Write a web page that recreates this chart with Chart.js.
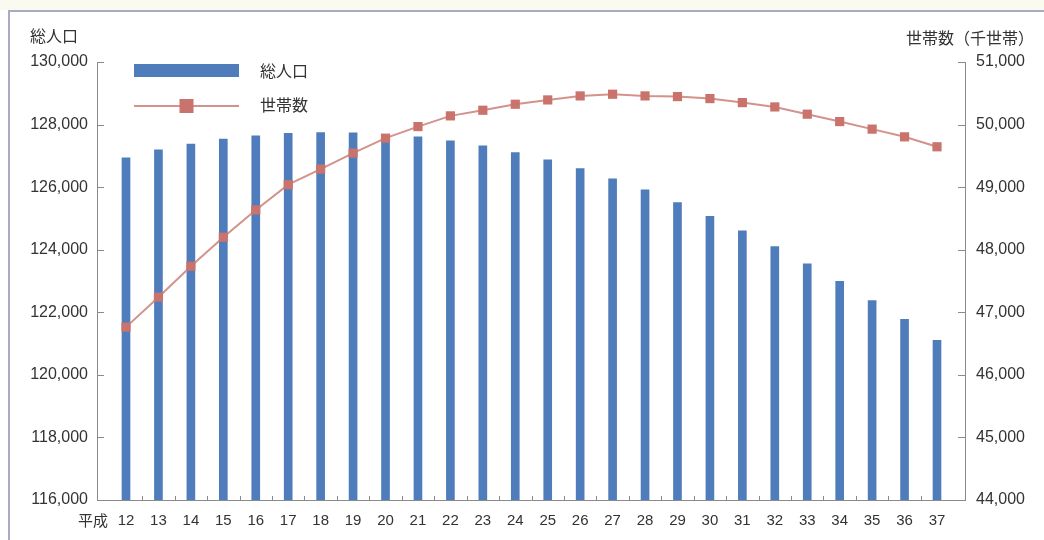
<!DOCTYPE html>
<html>
<head>
<meta charset="utf-8">
<script src="https://cdn.jsdelivr.net/npm/chart.js@4/dist/chart.umd.min.js"></script>
<style>
  html, body { margin: 0; padding: 0; background: #ffffff; }
  #wrap { width: 1044px; height: 540px; position: relative; }
</style>
</head>
<body>
<div id="wrap"><canvas id="c" width="1044" height="540"></canvas></div>
<script>
// 年次（平成）
const years = [12, 13, 14, 15, 16, 17, 18, 19, 20, 21, 22, 23, 24, 25, 26, 27, 28, 29, 30, 31, 32, 33, 34, 35, 36, 37];
const yearLabels = ['12', '13', '14', '15', '16', '17', '18', '19', '20', '21', '22', '23', '24', '25', '26', '27', '28', '29', '30', '31', '32', '33', '34', '35', '36', '37'];

// 総人口（千人）
const population = [126938, 127193, 127375, 127535, 127640, 127720, 127745, 127736, 127670, 127608, 127480, 127321, 127107,
                    126874, 126597, 126269, 125918, 125503, 125066, 124601, 124100, 123548, 122993, 122378, 121772, 121102];

// 世帯数（千世帯）
const households = [46763, 47242, 47736, 48199, 48635, 49039, 49289, 49544, 49783, 49968, 50139, 50229, 50325,
                    50394, 50458, 50485, 50458, 50447, 50415, 50351, 50282, 50166, 50048, 49927, 49804, 49645];

// 目盛
const popTicks = [116000, 118000, 120000, 122000, 124000, 126000, 128000, 130000];
const hhTicks = [44000, 45000, 46000, 47000, 48000, 49000, 50000, 51000];

const seriesNames = ['総人口', '世帯数'];
const leftTitle = '総人口';
const rightTitle = '世帯数（千世帯）';
const eraLabel = '平成';

const BAR_COLOR = '#4f7dbb';
const LINE_COLOR = '#d3928b';
const MARK_COLOR = '#c9736c';
const AXIS_COLOR = '#8a8a8a';
const TEXT_COLOR = '#333333';
const NUM_FONT = "'Liberation Sans', Arial, sans-serif";
const JP_FONT = "'Noto Sans CJK JP', 'Noto Sans', sans-serif";

const fmt = v => v.toLocaleString('en-US');

// 背景と外枠
const framePlugin = {
  id: 'frame',
  beforeDraw(chart) {
    const ctx = chart.ctx;
    ctx.save();
    ctx.fillStyle = '#ffffff';
    ctx.fillRect(0, 0, chart.width, chart.height);
    ctx.fillStyle = '#fbfaf1';
    ctx.fillRect(0, 0, chart.width, 10);
    ctx.strokeStyle = '#a9abc2';
    ctx.lineWidth = 2;
    ctx.beginPath();
    ctx.moveTo(9, chart.height);
    ctx.lineTo(9, 11);
    ctx.lineTo(chart.width, 11);
    ctx.stroke();
    ctx.restore();
  }
};

// 内向きの目盛線、軸見出し、凡例
const decorPlugin = {
  id: 'decor',
  afterDraw(chart) {
    const ctx = chart.ctx;
    const area = chart.chartArea;
    const sx = chart.scales.x, sy = chart.scales.y, sy1 = chart.scales.y1;
    ctx.save();
    ctx.strokeStyle = AXIS_COLOR;
    ctx.lineWidth = 1;
    ctx.beginPath();
    popTicks.forEach(v => {
      const y = Math.round(sy.getPixelForValue(v)) + 0.5;
      ctx.moveTo(area.left, y); ctx.lineTo(area.left + 7, y);
    });
    hhTicks.forEach(v => {
      const y = Math.round(sy1.getPixelForValue(v)) + 0.5;
      ctx.moveTo(area.right - 7, y); ctx.lineTo(area.right, y);
    });
    for (let i = 0; i < years.length - 1; i++) {
      const x = Math.round(sx.getPixelForValue((years[i] + years[i + 1]) / 2)) + 0.5;
      ctx.moveTo(x, area.bottom); ctx.lineTo(x, area.bottom - 4);
    }
    ctx.stroke();

    // 軸見出し
    ctx.fillStyle = TEXT_COLOR;
    ctx.font = '16px ' + JP_FONT;
    ctx.textBaseline = 'middle';
    ctx.textAlign = 'left';
    ctx.fillText(leftTitle, 30, 36);
    ctx.textAlign = 'right';
    ctx.fillText(rightTitle, 1034, 38);
    ctx.font = '15px ' + JP_FONT;
    ctx.textAlign = 'center';
    ctx.fillText(eraLabel, sx.getPixelForValue(years[0]) - 33, 520);

    // 凡例
    const lx0 = area.left + 37, lx1 = area.left + 142;
    ctx.fillStyle = BAR_COLOR;
    ctx.fillRect(lx0, 64, lx1 - lx0, 13);
    ctx.strokeStyle = LINE_COLOR;
    ctx.lineWidth = 2;
    ctx.beginPath();
    ctx.moveTo(lx0, 106); ctx.lineTo(lx1, 106);
    ctx.stroke();
    ctx.fillStyle = MARK_COLOR;
    const mx = (lx0 + lx1) / 2;
    ctx.fillRect(mx - 7, 99, 14, 14);
    ctx.fillStyle = TEXT_COLOR;
    ctx.font = '16px ' + JP_FONT;
    ctx.textAlign = 'left';
    ctx.fillText(seriesNames[0], 260, 71);
    ctx.fillText(seriesNames[1], 260, 105);
    ctx.restore();
  }
};

new Chart(document.getElementById('c'), {
  data: {
    datasets: [
      {
        type: 'line',
        label: seriesNames[1],
        data: years.map((x, i) => ({ x, y: households[i] })),
        yAxisID: 'y1',
        borderColor: LINE_COLOR,
        borderWidth: 2,
        tension: 0,
        pointStyle: 'rect',
        pointRadius: 6.5,
        pointBackgroundColor: MARK_COLOR,
        pointBorderColor: MARK_COLOR,
        pointBorderWidth: 0,
        order: 0
      },
      {
        type: 'bar',
        label: seriesNames[0],
        data: years.map((x, i) => ({ x, y: population[i] })),
        yAxisID: 'y',
        backgroundColor: BAR_COLOR,
        barThickness: 8,
        order: 1
      }
    ]
  },
  options: {
    responsive: false,
    animation: false,
    devicePixelRatio: 1,
    layout: { padding: { top: 62, left: 0, right: 0, bottom: 0 } },
    plugins: { legend: { display: false }, tooltip: { enabled: false } },
    scales: {
      x: {
        type: 'linear',
        position: 'bottom',
        offset: false,
        min: 11.106,
        max: 37.863,
        afterBuildTicks: s => { s.ticks = years.map(v => ({ value: v })); },
        afterFit: s => { s.height = 40; },
        grid: { display: true, offset: false, drawOnChartArea: false, drawTicks: false },
        border: { display: true, color: AXIS_COLOR, width: 1 },
        ticks: {
          autoSkip: false,
          maxRotation: 0,
          padding: 12,
          color: TEXT_COLOR,
          font: { family: NUM_FONT, size: 15 },
          callback: v => yearLabels[years.indexOf(v)]
        }
      },
      y: {
        type: 'linear',
        position: 'left',
        min: 116000,
        max: 130000,
        afterBuildTicks: s => { s.ticks = popTicks.map(v => ({ value: v })); },
        afterFit: s => { s.width = 97; },
        grid: { display: true, drawOnChartArea: false, drawTicks: false },
        border: { display: true, color: AXIS_COLOR, width: 1 },
        ticks: { padding: 9, color: TEXT_COLOR, font: { family: NUM_FONT, size: 16 }, callback: v => fmt(v) }
      },
      y1: {
        type: 'linear',
        position: 'right',
        min: 44000,
        max: 51000,
        afterBuildTicks: s => { s.ticks = hhTicks.map(v => ({ value: v })); },
        afterFit: s => { s.width = 79; },
        grid: { display: true, drawOnChartArea: false, drawTicks: false },
        border: { display: true, color: AXIS_COLOR, width: 1 },
        ticks: { padding: 11, color: TEXT_COLOR, font: { family: NUM_FONT, size: 16 }, callback: v => fmt(v) }
      }
    }
  },
  plugins: [framePlugin, decorPlugin]
});
</script>
</body>
</html>
